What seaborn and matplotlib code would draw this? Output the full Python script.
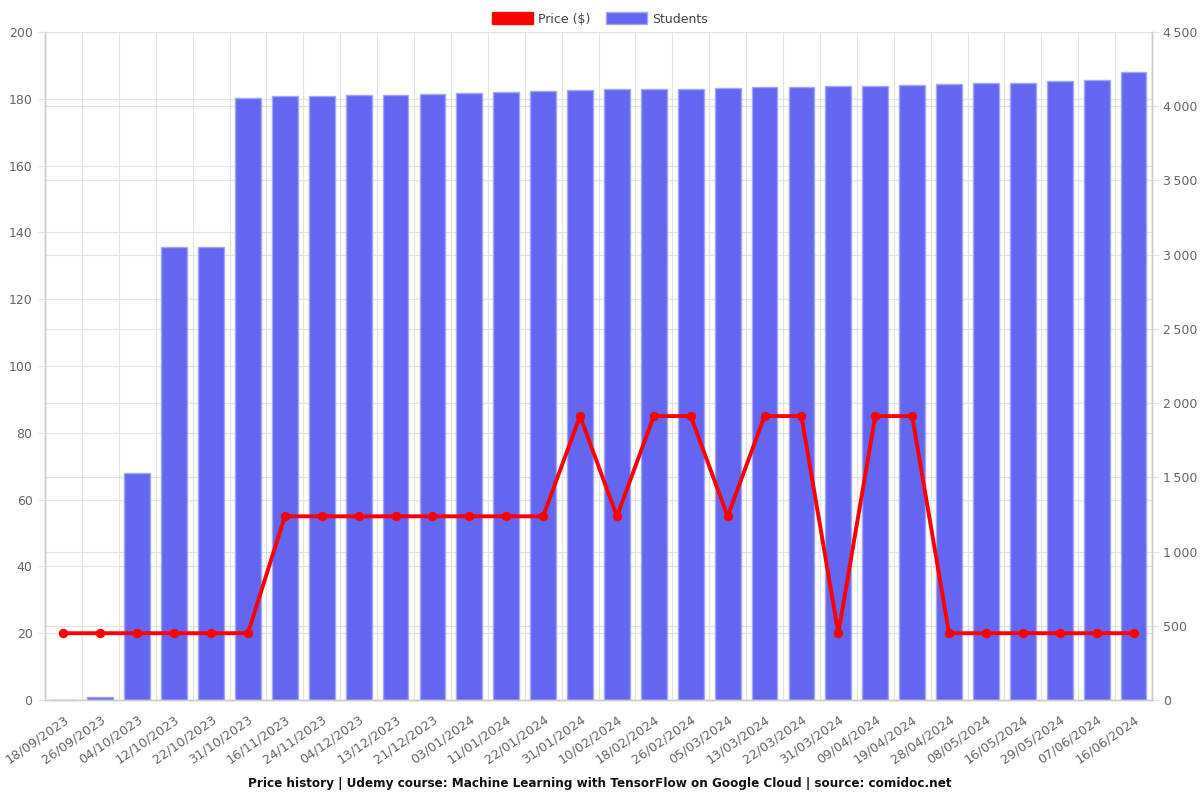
import numpy as np
import pandas as pd
import matplotlib
matplotlib.use("Agg")
import matplotlib.pyplot as plt
from matplotlib.patches import Patch
from matplotlib.ticker import FuncFormatter
import seaborn as sns

dates = ["18/09/2023", "26/09/2023", "04/10/2023", "12/10/2023", "22/10/2023", "31/10/2023",
         "16/11/2023", "24/11/2023", "04/12/2023", "13/12/2023", "21/12/2023", "03/01/2024",
         "11/01/2024", "22/01/2024", "31/01/2024", "10/02/2024", "18/02/2024", "26/02/2024",
         "05/03/2024", "13/03/2024", "22/03/2024", "31/03/2024", "09/04/2024", "19/04/2024",
         "28/04/2024", "08/05/2024", "16/05/2024", "29/05/2024", "07/06/2024", "16/06/2024"]
prices = [20, 20, 20, 20, 20, 20, 55, 55, 55, 55, 55, 55, 55, 55, 85, 55, 85, 85,
          55, 85, 85, 20, 85, 85, 20, 20, 20, 20, 20, 20]
students = [0, 20, 1530, 3053, 3054, 4057, 4071, 4072, 4076, 4078, 4084, 4089, 4096, 4103,
            4109, 4114, 4116, 4117, 4125, 4128, 4132, 4136, 4138, 4143, 4150, 4156, 4159,
            4168, 4177, 4233]

df = pd.DataFrame({"date": dates, "price": prices, "students": students})

sns.set_style("white")
plt.rcParams['font.family'] = ['DejaVu Sans']

fig = plt.figure(figsize=(12, 8), dpi=100)
ax = fig.add_axes([45/1200, 100/800, 1107/1200, 668/800])
ax2 = ax.twinx()

grid_c = "#e3e3e3"
axis_c = "#cccccc"
bar_c = "#6366F1"
txt_c = "#666666"
fs = 9

sns.barplot(data=df, x="date", y="students", order=dates, color=bar_c, saturation=1,
            width=0.7, edgecolor="#a5a7f5", linewidth=1, ax=ax2)
ax2.set_ylim(0, 4500)
ax2.set_yticks(np.arange(0, 4501, 500))
ax2.yaxis.set_major_formatter(FuncFormatter(lambda v, p: f"{int(v):,}".replace(",", "\u2009")))
ax2.set_ylabel("")

sns.lineplot(x=np.arange(len(dates)), y=df["price"], color="#FF0000", linewidth=2.8,
             marker="o", markersize=6, markeredgecolor="#FF0000", ax=ax)
ax.set_ylim(0, 200)
ax.set_yticks(np.arange(0, 201, 20))
ax.set_xlim(-0.5, len(dates) - 0.5)
ax.set_ylabel("")
ax.set_xlabel("")

ax.set_zorder(ax2.get_zorder() + 1)
ax.patch.set_visible(False)

# grids
for y in np.arange(0, 201, 20):
    ax2.axhline(y / 200 * 4500, color=grid_c, linewidth=0.8, zorder=0)
for y in np.arange(0, 4501, 500):
    ax2.axhline(y, color=grid_c, linewidth=0.8, zorder=0)
for xb in np.arange(-0.5, len(dates), 1):
    ax2.axvline(xb, color=grid_c, linewidth=0.8, zorder=0)

ax.set_xticks(np.arange(len(dates)))
ax.set_xticklabels(dates, rotation=35, ha="right", rotation_mode="anchor")
ax.set_xticks(np.arange(-0.5, len(dates), 1), minor=True)
ax.tick_params(axis="x", which="major", length=0, labelsize=9.3, colors=txt_c, pad=9)
ax.tick_params(axis="x", which="minor", length=6, color=grid_c)
ax.tick_params(axis="y", length=5, color=grid_c, labelsize=fs, labelcolor=txt_c, pad=4)
ax2.tick_params(axis="y", length=5, color=grid_c, labelsize=fs, labelcolor=txt_c, pad=3)
ax2.set_xlabel("")

for a in (ax, ax2):
    a.spines["top"].set_visible(False)
    for s in ("left", "right", "bottom"):
        a.spines[s].set_color(axis_c)
        a.spines[s].set_linewidth(1)

handles = [Patch(facecolor="#FF0000", edgecolor="#FF0000", label="Price ($)"),
           Patch(facecolor=bar_c, edgecolor="#a5a7f5", label="Students")]
fig.legend(handles=handles, loc="upper center", bbox_to_anchor=(0.5, 0.9985), ncol=2,
           frameon=False, fontsize=fs, handlelength=3.3, handleheight=1.1, columnspacing=1.2,
           handletextpad=0.4, labelcolor="#444444")

fig.text(0.5, 1 - 783/800, "Price history | Udemy course: Machine Learning with TensorFlow on Google Cloud | source: comidoc.net",
         ha="center", va="center", fontsize=8.65, fontweight="bold", color="#111111")

fig.savefig("out.png", dpi=100)
